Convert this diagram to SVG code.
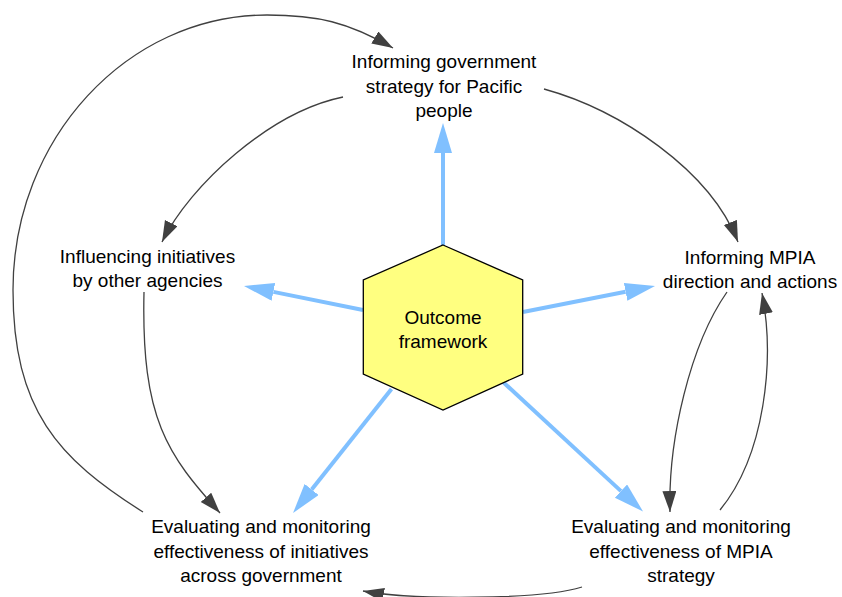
<svg xmlns="http://www.w3.org/2000/svg" width="842" height="597" viewBox="0 0 842 597">
<defs>
<style>
.t{font-family:"Liberation Sans",Arial,sans-serif;font-size:19px;fill:#000;text-anchor:middle}
.d{fill:none;stroke:#404040;stroke-width:1.3}
.b{fill:none;stroke:#80c0ff;stroke-width:4}
</style>
<marker id="ad" markerUnits="userSpaceOnUse" markerWidth="22" markerHeight="15" refX="21" refY="7" orient="auto"><path d="M0,0 L21,7 L0,14 z" fill="#404040"/></marker>
<marker id="ab" markerUnits="userSpaceOnUse" markerWidth="31" markerHeight="19" refX="0" refY="9" orient="auto"><path d="M0,0 L30,9 L0,18 z" fill="#80c0ff"/></marker>
</defs>
<rect width="842" height="597" fill="#fff"/>
<g id="connectors">
<path class="b" d="M443,245 L443,153" marker-end="url(#ab)"/>
<path class="b" d="M363,310 L273.4,291.9" marker-end="url(#ab)"/>
<path class="b" d="M523,312 L625.6,291.8" marker-end="url(#ab)"/>
<path class="b" d="M391.5,389 L311.7,489.5" marker-end="url(#ab)"/>
<path class="b" d="M502,381 L621,491.1" marker-end="url(#ab)"/>
<path class="d" d="M143,512 C58.4,458.9 13,410 13,290 C13,139 127,15 267,15 C317,15 348,22 393,48" marker-end="url(#ad)"/>
<path class="d" d="M343,97 C270,112 190,185 162,242" marker-end="url(#ad)"/>
<path class="d" d="M544,89 C620,110 710,170 738,242" marker-end="url(#ad)"/>
<path class="d" d="M144,292 C141,420 168,455 220,513" marker-end="url(#ad)"/>
<path class="d" d="M727,292 C690,345 668,440 670,512" marker-end="url(#ad)"/>
<path class="d" d="M720,510 C765,455 775,360 762,293" marker-end="url(#ad)"/>
<path class="d" d="M582,587 C540,600 410,600 363,591" marker-end="url(#ad)"/>
</g>
<g id="outcome">
<polygon points="443,245 522.7,280 522.7,374 443,410 363.3,374 363.3,280" fill="#ffff80" stroke="#000" stroke-width="1.3"/>
<text class="t" x="443" y="324">Outcome</text>
<text class="t" x="443" y="348">framework</text>
</g>
<g id="informing-gov">
<text class="t" x="444" y="68">Informing government</text>
<text class="t" x="444" y="92.5">strategy for Pacific</text>
<text class="t" x="444" y="117">people</text>
</g>
<g id="influencing">
<text class="t" x="147.5" y="262.5">Influencing initiatives</text>
<text class="t" x="147.5" y="287">by other agencies</text>
</g>
<g id="informing-mpia">
<text class="t" x="750" y="264">Informing MPIA</text>
<text class="t" x="750" y="288.3">direction and actions</text>
</g>
<g id="eval-gov">
<text class="t" x="261" y="533">Evaluating and monitoring</text>
<text class="t" x="261" y="557.5">effectiveness of initiatives</text>
<text class="t" x="261" y="582">across government</text>
</g>
<g id="eval-mpia">
<text class="t" x="681" y="533">Evaluating and monitoring</text>
<text class="t" x="681" y="557.5">effectiveness of MPIA</text>
<text class="t" x="681" y="582">strategy</text>
</g>
</svg>
